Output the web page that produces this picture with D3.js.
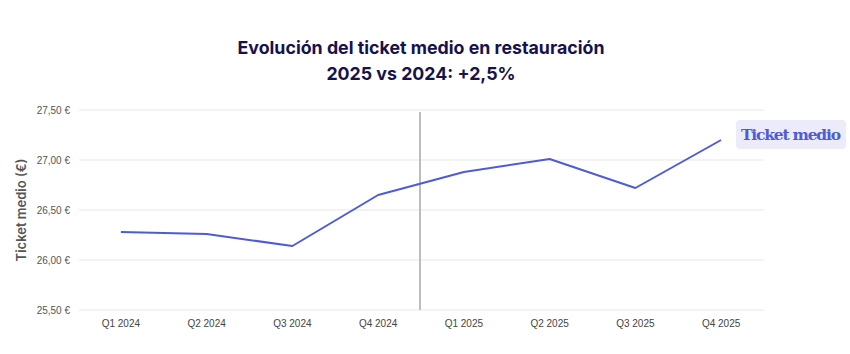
<!DOCTYPE html>
<html><head><meta charset="utf-8">
<script src="https://cdn.jsdelivr.net/npm/d3@7"></script>
<style>body{margin:0;background:#fff;}svg{display:block;}</style>
</head><body>
<script>
const categories = ["Q1 2024","Q2 2024","Q3 2024","Q4 2024","Q1 2025","Q2 2025","Q3 2025","Q4 2025"];
const ticketMedio = [26.28, 26.26, 26.14, 26.65, 26.88, 27.01, 26.72, 27.20];
const yTicks = [25.5, 26.0, 26.5, 27.0, 27.5];
const titleLines = ["Evolución del ticket medio en restauración", "2025 vs 2024: +2,5%"];
const seriesName = "Ticket medio";
const dividerAfter = "Q4 2024";

const W = 850, H = 354;
const svg = d3.select("body").append("svg").attr("width", W).attr("height", H);
const x = d3.scaleBand().domain(categories).range([78, 764]);
const y = d3.scaleLinear().domain([25.5, 27.5]).range([310, 110]);
const fmt = v => d3.format(".2f")(v).replace(".", ",") + " €";

// title
svg.append("g").selectAll("text").data(titleLines).join("text")
  .attr("x", 421).attr("y", (d,i) => 54 + i*26)
  .attr("text-anchor", "middle")
  .attr("font-family", "Inter, 'Noto Sans', sans-serif")
  .attr("font-weight", 700).attr("font-size", 17.8)
  .attr("fill", "#17124d").text(d => d);

// grid
svg.append("g").selectAll("line").data(yTicks).join("line")
  .attr("x1", 79).attr("x2", 764)
  .attr("y1", d => y(d)).attr("y2", d => y(d))
  .attr("stroke", "#e8e8e8").attr("stroke-width", 1.2);

// y labels
svg.append("g").selectAll("text").data(yTicks).join("text")
  .attr("x", 70).attr("y", d => y(d) + 3.5)
  .attr("text-anchor", "end")
  .attr("font-family", "'Liberation Sans', Arial, sans-serif")
  .attr("font-size", 10).attr("fill", "#555").text(fmt);

// y title
svg.append("text")
  .attr("transform", "translate(26,210) rotate(-90)")
  .attr("text-anchor", "middle")
  .attr("font-family", "Inter, 'Noto Sans', sans-serif")
  .attr("font-weight", 600).attr("font-size", 13)
  .attr("fill", "#555").text("Ticket medio (€)");

// x labels
const xAxis = d3.axisBottom(x).tickSize(0).tickPadding(0);
const gx = svg.append("g").attr("transform", "translate(0,327)").call(xAxis);
gx.select(".domain").remove();
gx.selectAll("text")
  .attr("font-family", "'Liberation Sans', Arial, sans-serif")
  .attr("font-size", 10).attr("fill", "#444").attr("dy", 0);

// divider
const dx = x(dividerAfter) + x.bandwidth();
svg.append("line").attr("x1", dx - 1).attr("x2", dx - 1).attr("y1", 112).attr("y2", 310)
  .attr("stroke", "#bdbdbd").attr("stroke-width", 2);

// line
const line = d3.line().x((d,i) => x(categories[i]) + x.bandwidth()/2).y(d => y(d));
svg.append("path").datum(ticketMedio).attr("d", line)
  .attr("fill", "none").attr("stroke", "#4f5bd5").attr("stroke-width", 2)
  .attr("stroke-linejoin", "round");

// series label
const lg = svg.append("g").attr("transform", "translate(736,120)");
lg.append("rect").attr("width", 110).attr("height", 29).attr("rx", 4)
  .attr("fill", "#ebebfa");
lg.append("text").attr("x", 55).attr("y", 20).attr("text-anchor", "middle")
  .attr("font-family", "'DejaVu Serif', serif").attr("font-weight", 700)
  .attr("font-size", 15.5).attr("fill", "#4f5bd5").attr("textLength", 100)
  .text(seriesName);
</script>
</body></html>
